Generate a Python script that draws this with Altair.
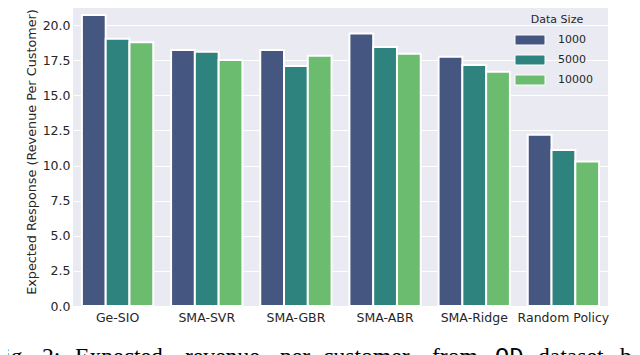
import altair as alt
import pandas as pd

methods = ["Ge-SIO", "SMA-SVR", "SMA-GBR", "SMA-ABR", "SMA-Ridge", "Random Policy"]
sizes = ["1000", "5000", "10000"]
v1000 = [20.72, 18.22, 18.22, 19.41, 17.75, 12.19]
v5000 = [19.03, 18.10, 17.08, 18.44, 17.16, 11.10]
v10000 = [18.77, 17.51, 17.82, 17.96, 16.68, 10.29]
colors = ["#455681", "#2f837f", "#6bbc6e"]
y_ticks = [0, 2.5, 5, 7.5, 10, 12.5, 15, 17.5, 20]

caption_words = ["Fig.", "2:", "Expected", "revenue", "per", "customer", "from", "OD", "dataset", "by"]
caption_x = [-9, 42, 75, 185, 280, 323, 432, 495, 538, 620]

rows = []
for s, vals in zip(sizes, [v1000, v5000, v10000]):
    for m, v in zip(methods, vals):
        rows.append({"method": m, "size": s, "value": v})
df = pd.DataFrame(rows)

W, H = 535, 309
PLOT_X, PLOT_Y = 73, -3.1  # page coordinates of plot origin

bars = alt.Chart(df).mark_bar(stroke="white", strokeWidth=2).encode(
    x=alt.X("method:N", sort=methods,
            scale=alt.Scale(paddingInner=0.2, paddingOuter=0.1),
            axis=alt.Axis(title=None, labelAngle=0, labelFontSize=12.5,
                          labelColor="#262626", labelPadding=5, grid=False,
                          domain=False, ticks=False, labelFont="DejaVu Sans")),
    xOffset=alt.XOffset("size:N", sort=sizes,
                        scale=alt.Scale(paddingInner=0, paddingOuter=0)),
    y=alt.Y("value:Q", scale=alt.Scale(domain=[0, 22], nice=False, zero=True),
            axis=alt.Axis(title="Expected Response (Revenue Per Customer)",
                          values=y_ticks, format=".1f", labelFontSize=12.5,
                          labelColor="#262626", labelPadding=3,
                          titleFontSize=12.8, titleFontWeight="normal",
                          titleColor="#262626", titlePadding=4,
                          titleFont="DejaVu Sans", labelFont="DejaVu Sans",
                          domain=False, ticks=False, grid=True,
                          gridColor="white", gridWidth=1)),
    color=alt.Color("size:N", sort=sizes,
                    scale=alt.Scale(domain=sizes, range=colors),
                    legend=alt.Legend(title="Data Size", orient="none",
                                      legendX=449, legendY=17,
                                      symbolType="M-2,-0.667H2V0.667H-2Z",
                                      symbolSize=225, symbolStrokeColor="white",
                                      symbolStrokeWidth=1, symbolOpacity=1,
                                      labelFontSize=11, titleFontSize=11,
                                      titleFontWeight="normal", titleColor="#262626",
                                      labelColor="#262626", titleAnchor="middle",
                                      titlePadding=7,
                                      labelOffset=20, rowPadding=4, padding=0,
                                      labelFont="DejaVu Sans", titleFont="DejaVu Sans")),
)

layers = [bars]
cap_df = pd.DataFrame({"k": [0]})
for w, xp in zip(caption_words, caption_x):
    font = "Liberation Mono" if w == "OD" else "Liberation Serif"
    layers.append(
        alt.Chart(cap_df).mark_text(align="left", baseline="alphabetic",
                                    fontSize=23.6, font=font, color="black").encode(
            x=alt.value(xp - PLOT_X), y=alt.value(364 - PLOT_Y), text=alt.value(w))
    )

chart = alt.layer(*layers).properties(
    width=W, height=H,
    background="white",
    autosize=alt.AutoSizeParams(type="none"),
    padding={"left": 65, "right": 24, "top": -11, "bottom": 49},
).configure_view(fill="#EAEAF2", stroke=None)

chart.save("out.html", embed_options={"renderer": "svg", "actions": False})
